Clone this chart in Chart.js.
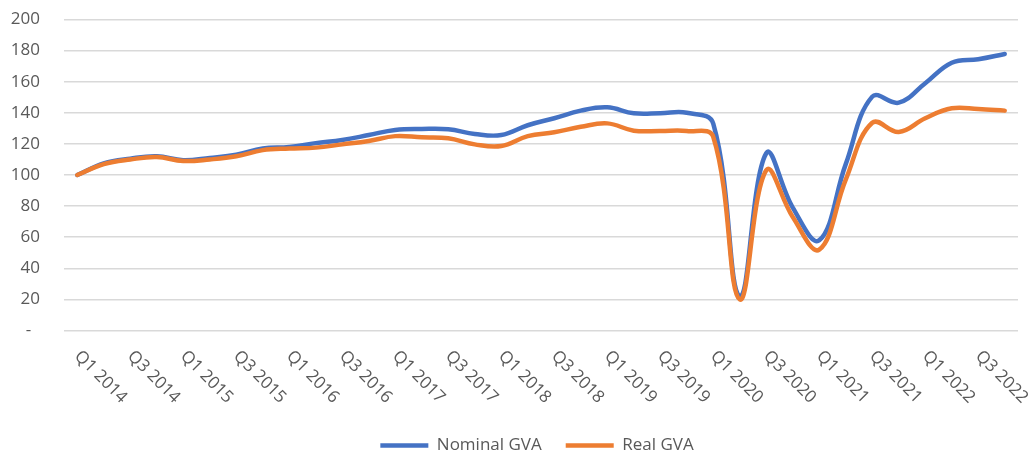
<!DOCTYPE html>
<html>
<head>
<meta charset="utf-8">
<script src="https://cdn.jsdelivr.net/npm/chart.js@4/dist/chart.umd.min.js"></script>
<style>
  html, body { margin: 0; padding: 0; background: #fff; overflow: hidden; }
  #wrap { width: 1030px; height: 454px; }
</style>
</head>
<body>
<div id="wrap"><canvas id="myChart"></canvas></div>
<script>
// Quarterly GVA index, Q1 2014 = 100
const quarters = [
    'Q1 2014', 'Q2 2014', 'Q3 2014', 'Q4 2014',
    'Q1 2015', 'Q2 2015', 'Q3 2015', 'Q4 2015',
    'Q1 2016', 'Q2 2016', 'Q3 2016', 'Q4 2016',
    'Q1 2017', 'Q2 2017', 'Q3 2017', 'Q4 2017',
    'Q1 2018', 'Q2 2018', 'Q3 2018', 'Q4 2018',
    'Q1 2019', 'Q2 2019', 'Q3 2019', 'Q4 2019',
    'Q1 2020', 'Q2 2020', 'Q3 2020', 'Q4 2020',
    'Q1 2021', 'Q2 2021', 'Q3 2021', 'Q4 2021',
    'Q1 2022', 'Q2 2022', 'Q3 2022', 'Q4 2022'
]

const nominalGVA = [
    100, 107.5, 110.5, 112, 109.5, 111, 113, 117,
    118, 120.5, 122.5, 125.7, 129, 129.6, 129.4, 126.4,
    125.7, 132, 136.5, 141.4, 143.5, 139.7, 139.7, 140,
    133, 22, 114, 79, 58, 107, 150.4, 146.5,
    159, 172.2, 174.4, 177.8
]

const realGVA = [
    100, 107, 110, 111.5, 109, 110, 112, 116,
    117, 117.6, 119.7, 121.9, 125, 124.2, 123.6, 119.7,
    118.6, 125, 127.5, 131, 133.2, 128.5, 128.3, 128.3,
    124.5, 20, 103, 73, 52, 97, 133.6, 127.7,
    136.5, 142.9, 142.4, 141.4
]

const yTicks = [0, 20, 40, 60, 80, 100, 120, 140, 160, 180, 200]

const FONT = '"Open Sans", "Noto Sans", sans-serif'
const TEXT = '#595959'

// Excel style slanted category labels (every 2nd quarter), running down to the right
const quarterLabels = {
    id: 'quarterLabels',
    afterLayout(chart) {
        // nudge the legend a bit lower and to the right, like the original
        const lg = chart.legend
        lg.top += 10; lg.bottom += 10
        lg.left += 28; lg.right += 28
    },
    afterDraw(chart) {
        const ctx = chart.ctx
        const x = chart.scales.x
        ctx.save()
        ctx.font = '17px ' + FONT
        ctx.fillStyle = TEXT
        ctx.textAlign = 'left'
        ctx.textBaseline = 'middle'
        quarters.forEach((q, i) => {
            if (i % 2) return
            ctx.save()
            ctx.translate(x.getPixelForTick(i), x.top + 23)
            ctx.rotate(Math.PI / 4)
            ctx.fillText(q, 0, 0)
            ctx.restore()
        })
        ctx.restore()
    }
}

const ctx = document.getElementById('myChart')
const myChart = new Chart(ctx, {
    type: 'line',
    data: {
        labels: quarters,
        datasets: [{
            label: 'Nominal GVA',
            data: nominalGVA,
            borderColor: '#4472C4',
            backgroundColor: '#4472C4',
            borderWidth: 4.5,
            order: 1
        },
        {
            label: 'Real GVA',
            data: realGVA,
            borderColor: '#ED7D31',
            backgroundColor: '#ED7D31',
            borderWidth: 4.5,
            order: 0
        }]
    },
    options: {
        responsive: true,
        maintainAspectRatio: false,
        animation: false,
        layout: {
            padding: { top: 19.5, right: 12, left: 0, bottom: 0 }
        },
        elements: {
            point: { radius: 0, hoverRadius: 0 },
            line: { tension: 0.4, borderCapStyle: 'round', borderJoinStyle: 'round' }
        },
        scales: {
            x: {
                offset: true,
                grid: { display: false },
                border: { display: false },
                ticks: { display: false },
                afterFit: (scale) => { scale.height = 72.5 }
            },
            y: {
                min: 0,
                max: 200,
                afterBuildTicks: (scale) => { scale.ticks = yTicks.map(v => ({ value: v })) },
                afterFit: (scale) => {
                    scale.width = 64
                    scale.paddingTop = 0
                    scale.paddingBottom = 0
                },
                grid: { color: '#d9d9d9', lineWidth: 1.5, drawTicks: false },
                border: { display: false },
                ticks: {
                    padding: 24,
                    color: TEXT,
                    font: { family: FONT, size: 17 },
                    callback: (v) => v === 0 ? '-  ' : v
                }
            }
        },
        plugins: {
            tooltip: { enabled: false },
            legend: {
                position: 'bottom',
                labels: {
                    usePointStyle: true,
                    pointStyle: 'line',
                    pointStyleWidth: 48,
                    padding: 24,
                    color: TEXT,
                    font: { family: FONT, size: 17 },
                    sort: (a, b) => a.datasetIndex - b.datasetIndex
                }
            }
        }
    },
    plugins: [quarterLabels]
})
</script>
</body>
</html>
